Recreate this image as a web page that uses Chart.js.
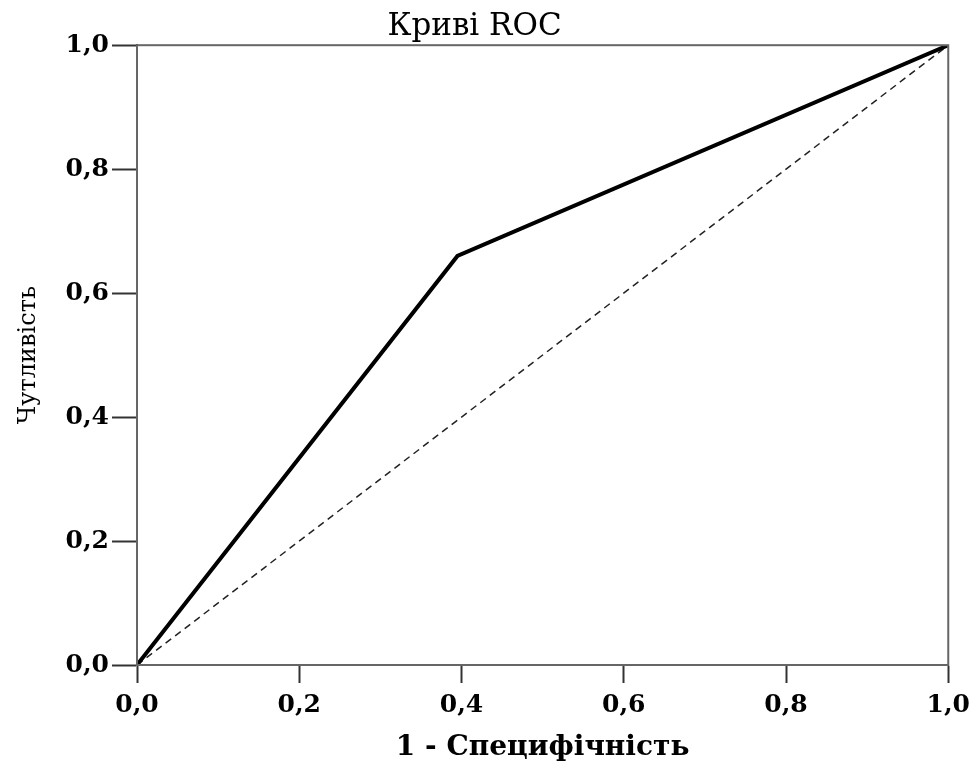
<!DOCTYPE html>
<html>
<head>
<meta charset="utf-8">
<script src="https://cdn.jsdelivr.net/npm/chart.js@4"></script>
<style>
  html, body { margin: 0; padding: 0; background: #fff; }
  #wrap { width: 977px; height: 762px; }
</style>
</head>
<body>
<div id="wrap"><canvas id="rocChart" width="977" height="762"></canvas></div>
<script>
// ROC curve points
const rocX = [0, 0.395, 1];
const rocY = [0, 0.66, 1];
// reference diagonal
const refX = [0, 1];
const refY = [0, 1];
const tickValues = [0, 0.2, 0.4, 0.6, 0.8, 1.0];

const serif = "'DejaVu Serif', 'Liberation Serif', serif";

function fmt(v) {
    return v.toFixed(1).replace('.', ',');
}

const boxPlugin = {
    id: 'box',
    afterDatasetsDraw(chart) {
        const a = chart.chartArea;
        const ctx = chart.ctx;
        ctx.save();
        ctx.strokeStyle = '#666';
        ctx.lineWidth = 2;
        ctx.strokeRect(a.left, a.top, a.right - a.left, a.bottom - a.top);
        ctx.restore();
    }
};

const ctx = document.getElementById('rocChart').getContext('2d');
const rocChart = new Chart(ctx, {
    type: 'scatter',
    data: {
        datasets: [
            {
                data: rocX.map((x, i) => ({x: x, y: rocY[i]})),
                showLine: true,
                borderColor: '#000',
                borderWidth: 4,
                pointRadius: 0,
                fill: false,
            },
            {
                data: refX.map((x, i) => ({x: x, y: refY[i]})),
                showLine: true,
                borderColor: '#222',
                borderWidth: 1.5,
                borderDash: [7, 5],
                pointRadius: 0,
                fill: false,
            }
        ]
    },
    options: {
        responsive: false,
        animation: false,
        layout: {padding: {left: 0, right: 28, top: 0, bottom: 0}},
        plugins: {
            legend: {display: false},
            tooltip: {enabled: false},
            title: {
                display: true,
                text: 'Криві ROC',
                color: '#000',
                font: {family: serif, size: 31, weight: 'normal'},
                padding: {top: 8, bottom: 0},
            },
        },
        scales: {
            x: {
                type: 'linear',
                min: 0,
                max: 1,
                afterBuildTicks: (s) => { s.ticks = tickValues.map(v => ({value: v})); },
                afterFit: (s) => { s.height = 97; },
                border: {display: true, color: '#333', width: 2},
                grid: {drawOnChartArea: false, tickLength: 18, tickWidth: 2, color: '#333'},
                ticks: {
                    color: '#000',
                    padding: 7,
                    maxRotation: 0,
                    font: {family: serif, size: 25, weight: 'bold'},
                    callback: (v) => fmt(v),
                },
                title: {
                    display: true,
                    text: '1 - Специфічність',
                    color: '#000',
                    font: {family: serif, size: 28, weight: 'bold'},
                    padding: {top: 12, bottom: -3},
                }
            },
            y: {
                type: 'linear',
                min: 0,
                max: 1,
                afterBuildTicks: (s) => { s.ticks = tickValues.map(v => ({value: v})); },
                afterFit: (s) => { s.width = 137; },
                border: {display: true, color: '#333', width: 2},
                grid: {drawOnChartArea: false, tickLength: 25, tickWidth: 2, color: '#333'},
                ticks: {
                    color: '#000',
                    padding: 3,
                    font: {family: serif, size: 25, weight: 'bold'},
                    callback: (v) => fmt(v),
                },
                title: {
                    display: true,
                    text: 'Чутливість',
                    color: '#000',
                    font: {family: serif, size: 24, weight: 'normal'},
                    padding: {top: 14, bottom: 4},
                }
            }
        }
    },
    plugins: [boxPlugin]
});
</script>
</body>
</html>
